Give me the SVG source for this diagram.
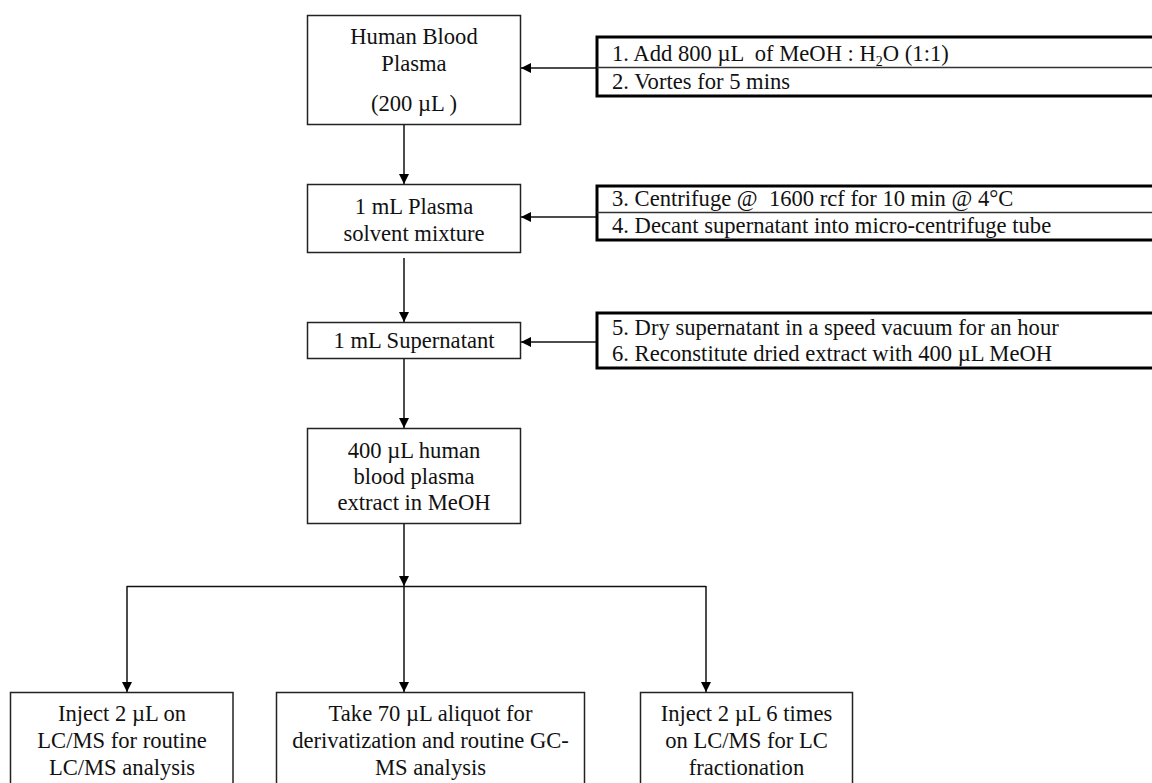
<svg xmlns="http://www.w3.org/2000/svg" width="1152" height="783" viewBox="0 0 1152 783">
  <style>
    text { font-family: "Liberation Serif", "Times New Roman", serif; font-size: 22.6px; fill: #111; white-space: pre; }
    .c { text-anchor: middle; }
    .box { fill: #fff; stroke: #222; stroke-width: 1.5; }
    .step { fill: #fff; stroke: #000; stroke-width: 3; }
    .div { stroke: #333; stroke-width: 1.5; }
    .wire { fill: none; stroke: #111; stroke-width: 1.5; }
    .sub { font-size: 14px; }
  </style>
  <defs>
    <marker id="arrow" viewBox="0 0 10 10" refX="10" refY="5" markerWidth="10" markerHeight="10" markerUnits="userSpaceOnUse" orient="auto">
      <path d="M0,0 L10,5 L0,10 Z" fill="#000"/>
    </marker>
  </defs>
  <rect width="1152" height="783" fill="#fff"/>

  <!-- connectors -->
  <g id="connectors">
    <line class="wire" x1="404" y1="121" x2="404" y2="184" marker-end="url(#arrow)"/>
    <line class="wire" x1="404" y1="258" x2="404" y2="322" marker-end="url(#arrow)"/>
    <line class="wire" x1="404" y1="358" x2="404" y2="428" marker-end="url(#arrow)"/>
    <line class="wire" x1="404" y1="523" x2="404" y2="586" marker-end="url(#arrow)"/>
    <line class="wire" x1="127" y1="586.5" x2="706" y2="586.5"/>
    <line class="wire" x1="127" y1="586" x2="127" y2="692" marker-end="url(#arrow)"/>
    <line class="wire" x1="404" y1="586" x2="404" y2="692" marker-end="url(#arrow)"/>
    <line class="wire" x1="706" y1="586" x2="706" y2="692" marker-end="url(#arrow)"/>
    <line class="wire" x1="597" y1="68" x2="521" y2="68" marker-end="url(#arrow)"/>
    <line class="wire" x1="597" y1="217" x2="521" y2="217" marker-end="url(#arrow)"/>
    <line class="wire" x1="597" y1="342" x2="521" y2="342" marker-end="url(#arrow)"/>
  </g>

  <!-- main column -->
  <g id="plasma">
    <rect class="box" x="307.5" y="15.5" width="213" height="109"/>
    <text class="c" x="414" y="44">Human Blood</text>
    <text class="c" x="414" y="71">Plasma</text>
    <text class="c" x="414" y="111">(200 µL )</text>
  </g>
  <g id="mixture">
    <rect class="box" x="307.5" y="184.5" width="213" height="68"/>
    <text class="c" x="414" y="214">1 mL Plasma</text>
    <text class="c" x="414" y="241">solvent mixture</text>
  </g>
  <g id="supernatant">
    <rect class="box" x="307.5" y="322.5" width="213" height="36"/>
    <text class="c" x="414" y="348">1 mL Supernatant</text>
  </g>
  <g id="extract">
    <rect class="box" x="307.5" y="428.5" width="213" height="95"/>
    <text class="c" x="414" y="458">400 µL human</text>
    <text class="c" x="414" y="484">blood plasma</text>
    <text class="c" x="414" y="510">extract in MeOH</text>
  </g>

  <!-- side steps -->
  <g id="steps-1-2">
    <rect class="step" x="597" y="37" width="570" height="59"/>
    <line class="div" x1="597" y1="67.5" x2="1160" y2="67.5"/>
    <text x="612" y="61">1. Add 800 µL  of MeOH : H<tspan class="sub" dy="5">2</tspan><tspan dy="-5">O (1:1)</tspan></text>
    <text x="612" y="89">2. Vortes for 5 mins</text>
  </g>
  <g id="steps-3-4">
    <rect class="step" x="597" y="186" width="570" height="54"/>
    <line class="div" x1="597" y1="212.5" x2="1160" y2="212.5"/>
    <text x="612" y="206">3. Centrifuge @  1600 rcf for 10 min @ 4°C</text>
    <text x="612" y="233">4. Decant supernatant into micro-centrifuge tube</text>
  </g>
  <g id="steps-5-6">
    <rect class="step" x="597" y="313" width="570" height="55"/>
    <text x="612" y="335">5. Dry supernatant in a speed vacuum for an hour</text>
    <text x="612" y="361">6. Reconstitute dried extract with 400 µL MeOH</text>
  </g>

  <!-- analysis branches -->
  <g id="lcms-routine">
    <rect class="box" x="10.5" y="692.5" width="222.5" height="100"/>
    <text class="c" x="122" y="721">Inject 2 µL on</text>
    <text class="c" x="122" y="748">LC/MS for routine</text>
    <text class="c" x="122" y="775">LC/MS analysis</text>
  </g>
  <g id="gcms">
    <rect class="box" x="276.5" y="692.5" width="308" height="100"/>
    <text class="c" x="430.5" y="721">Take 70 µL aliquot for</text>
    <text class="c" x="430.5" y="748">derivatization and routine GC-</text>
    <text class="c" x="430.5" y="775">MS analysis</text>
  </g>
  <g id="lc-fractionation">
    <rect class="box" x="640.5" y="692.5" width="212" height="100"/>
    <text class="c" x="746.5" y="721">Inject 2 µL 6 times</text>
    <text class="c" x="746.5" y="748">on LC/MS for LC</text>
    <text class="c" x="746.5" y="775">fractionation</text>
  </g>
</svg>
